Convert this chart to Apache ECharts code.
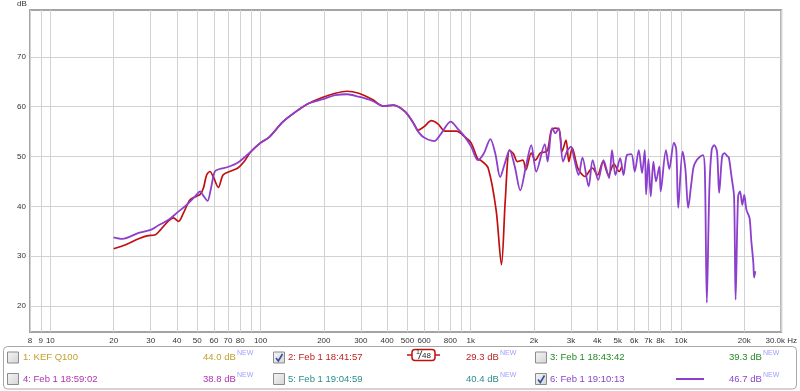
<!DOCTYPE html>
<html><head><meta charset="utf-8">
<script src="https://cdn.jsdelivr.net/npm/echarts@6/dist/echarts.min.js"></script>
<style>html,body{margin:0;padding:0;background:#fff}#c{width:800px;height:391px}</style>
</head><body><div id="c"></div>
<script>
const xTickValues = [8,9,10,20,30,40,50,60,70,80,90,100,200,300,400,500,600,700,800,900,1000,2000,3000,4000,5000,6000,7000,8000,9000,10000,20000,30000];
const xLabelValues = [8,9,10,20,30,40,50,60,70,80,100,200,300,400,500,600,800,1000,2000,3000,4000,5000,6000,7000,8000,10000,20000,30000];
const yTickValues = [20,30,40,50,60,70];

const redFreq = [20,22.8,26.3,28.8,31.6,33.4,36.5,38.5,40.7,43,46.1,49.4,51.6,53.5,55.4,57.4,59.5,63,66.3,71.4,78,83.6,90,99.5,110,128,153,170,198,227,258,293,339,385,428,487,534,562,600,650,700,753,855,935,1005,1080,1120,1210,1320,1400,1460,1530,1600,1665,1770,1830,1940,2030,2140,2250,2320,2420,2520,2640,2720,2840,2930,3040,3230,3490,3785,4010,4260,4520,4800,5080,5230];
const redDb = [31.5,32.3,33.5,34.1,34.3,35.3,37.1,37.7,37.0,38.7,41.3,42.0,42.4,43.7,46.3,47.0,46.0,43.8,46.3,47.0,47.7,49.0,51.0,52.7,53.9,57.0,59.5,60.7,61.9,62.7,63.1,62.7,61.5,60.1,60.3,59.0,56.7,55.3,56.0,57.2,56.5,55.1,55.1,54.0,52.7,49.5,49.2,47.7,39.3,28.3,41.3,51.3,50.5,49.0,49.3,47.3,50.7,49.3,50.7,50.9,51.2,55.3,55.7,55.3,51.0,53.3,49.0,51.7,47.7,46.0,47.7,46.3,49.0,46.3,48.5,47.0,48.0];

const purpleFreq = [20,22,26.3,30,32.7,36.5,40,44.5,48.8,51.6,53.5,55.9,58,60.6,63.8,69.9,78.1,90,99.5,110,128,153,170,198,227,258,293,339,385,428,487,534,556,595,670,720,803,870,935,1005,1080,1150,1240,1310,1380,1450,1530,1620,1720,1830,1940,2050,2250,2320,2440,2530,2620,2750,2880,3000,3100,3260,3400,3640,3800,4040,4280,4550,4700,4880,5140,5330,5530,5810,6030,6300,6530,6730,6828,7007,7184,7398,7611,7898,8010,8485,8804,9258,9500,9711,10176,10500,10826,11200,11500,11900,12350,12740,13000,13280,13650,14000,14400,14850,15200,15700,16100,16600,16900,17400,17900,18200,18700,19100,19600,20000,20500,21200,21600,22100,22300,22600];
const purpleDb = [33.8,33.5,34.7,35.3,36.2,37.3,38.7,40.3,42.0,43.0,42.1,41.1,43.5,47.0,47.5,47.9,48.8,51.0,52.7,53.9,57.0,59.5,60.7,61.5,62.3,62.5,62.0,61.2,60.1,60.3,59.0,56.7,55.3,53.9,53.1,54.5,57.0,55.5,54.0,52.0,49.3,50.5,53.5,50.5,45.9,48.5,51.3,48.0,43.2,48.0,52.3,47.0,52.5,49.0,55.7,54.7,55.7,49.0,51.2,52.0,49.7,46.3,49.8,44.0,49.3,45.3,49.3,45.7,51.3,46.3,49.7,46.3,50.3,50.5,47.0,51.3,46.7,51.3,42.4,49.5,42.0,49.0,45.0,48.0,43.0,51.3,47.5,52.8,51.5,39.7,51.0,47.5,39.7,44.5,48.0,49.3,50.0,50.3,47.0,20.7,43.3,51.3,52.3,51.0,42.7,50.0,50.7,50.1,49.8,46.0,42.0,21.3,42.0,43.0,40.3,42.3,39.3,37.7,33.3,28.7,25.7,27.0];

const legendRows = [
  [{name:'1: KEF Q100', val:'44.0 dB', color:'#c4a02c', checked:false},
   {name:'2: Feb 1 18:41:57', val:'29.3 dB', color:'#c02020', checked:true, smooth:true},
   {name:'3: Feb 1 18:43:42', val:'39.3 dB', color:'#238a23', checked:false}],
  [{name:'4: Feb 1 18:59:02', val:'38.8 dB', color:'#b030b0', checked:false},
   {name:'5: Feb 1 19:04:59', val:'40.4 dB', color:'#2a8c8c', checked:false},
   {name:'6: Feb 1 19:10:13', val:'46.7 dB', color:'#8a44cc', checked:true, sample:true}]
];

const FONT = '"Liberation Sans", Arial, sans-serif';
const RED = '#c01010', PURPLE = '#8b3fcc';
const zip = (a, b) => a.map((v, i) => [v, b[i]]);

function fmtX(v) {
  if (v >= 29999) return '30.0k Hz';
  if (v >= 1000) return (v / 1000) + 'k';
  return String(v);
}

const graphics = [];
graphics.push({type:'text', left:17, top:0, style:{text:'dB', fill:'#333', font:'8px ' + FONT}});
graphics.push({type:'rect', shape:{x:3.5, y:346.5, width:793, height:42.5, r:4}, style:{fill:'#fff', stroke:'#a8a8a8', lineWidth:1}, z:1});
const colX = [{cb:7.5, name:23, val:203}, {cb:273.5, name:288, val:466}, {cb:535.5, name:550, val:729}];
const rowY = [357.5, 379];
legendRows.forEach((row, r) => {
  row.forEach((it, c) => {
    const cx = colX[c], y = rowY[r];
    graphics.push({type:'rect', z:2, shape:{x:cx.cb, y:y - 5.5, width:11, height:11},
      style:{fill:new echarts.graphic.LinearGradient(0,0,1,1,[{offset:0,color:'#f6f6f6'},{offset:1,color:'#d4d4d4'}]), stroke:'#8c8c8c', lineWidth:1}});
    if (it.checked) {
      graphics.push({type:'polyline', z:3, shape:{points:[[cx.cb+2.5,y+0.5],[cx.cb+4.8,y+3.5],[cx.cb+9,y-3.5]]},
        style:{stroke:'#3550a0', lineWidth:1.6, fill:null}});
    }
    graphics.push({type:'text', z:2, x:cx.name, y:y, style:{text:it.name, fill:it.color, font:'9.5px ' + FONT, verticalAlign:'middle'}});
    graphics.push({type:'text', z:2, x:cx.val, y:y, style:{text:it.val, fill:it.color, font:'9.5px ' + FONT, verticalAlign:'middle'}});
    graphics.push({type:'text', z:2, x:cx.val + 34, y:y - 4, style:{text:'NEW', fill:'#a0a0ff', font:'7px ' + FONT, verticalAlign:'middle'}});
    if (it.smooth) {
      graphics.push({type:'line', z:2, shape:{x1:407, y1:355, x2:440, y2:355}, style:{stroke:RED, lineWidth:1.5}});
      graphics.push({type:'rect', z:3, shape:{x:412, y:349.5, width:23, height:11, r:3}, style:{fill:'#fff', stroke:RED, lineWidth:1.5}});
      graphics.push({type:'text', z:4, x:416, y:352.5, style:{text:'1', fill:'#222', font:'7px ' + FONT, verticalAlign:'middle'}});
      graphics.push({type:'line', z:4, shape:{x1:418.5, y1:359, x2:422, y2:350.5}, style:{stroke:'#222', lineWidth:0.9}});
      graphics.push({type:'text', z:4, x:422, y:356, style:{text:'48', fill:'#222', font:'8px ' + FONT, verticalAlign:'middle'}});
    }
    if (it.sample) {
      graphics.push({type:'line', z:2, shape:{x1:676, y1:y, x2:704, y2:y}, style:{stroke:PURPLE, lineWidth:2}});
    }
  });
});

const chart = echarts.init(document.getElementById('c'), null, {renderer:'canvas'});
chart.setOption({
  animation:false,
  backgroundColor:'#fff',
  grid:{left:30, right:15, top:10, bottom:59, show:true, borderColor:'#a4a4a4', borderWidth:2, backgroundColor:'#fff'},
  xAxis:{
    type:'log', logBase:10, min:8, max:30000,
    axisLine:{show:false},
    axisTick:{show:false, customValues:xTickValues},
    axisLabel:{customValues:xLabelValues, formatter:fmtX, fontSize:8, fontFamily:FONT, color:'#333', margin:5, showMinLabel:true, showMaxLabel:true, hideOverlap:false},
    splitLine:{show:true, lineStyle:{color:'#d2d2d2', width:1}}
  },
  yAxis:{
    type:'value', min:14.8, max:79.4,
    axisLine:{show:false},
    axisTick:{show:false, customValues:yTickValues},
    axisLabel:{customValues:yTickValues, fontSize:8, fontFamily:FONT, color:'#333', margin:4},
    splitLine:{show:true, lineStyle:{color:'#d2d2d2', width:1}}
  },
  series:[
    {type:'line', name:'2', data:zip(redFreq, redDb), showSymbol:false, smooth:0.3, lineStyle:{color:RED, width:1.7}, itemStyle:{color:RED}, z:3},
    {type:'line', name:'6', data:zip(purpleFreq, purpleDb), showSymbol:false, smooth:0.3, lineStyle:{color:PURPLE, width:1.8}, itemStyle:{color:PURPLE}, z:4}
  ],
  graphic:graphics
});
</script></body></html>
